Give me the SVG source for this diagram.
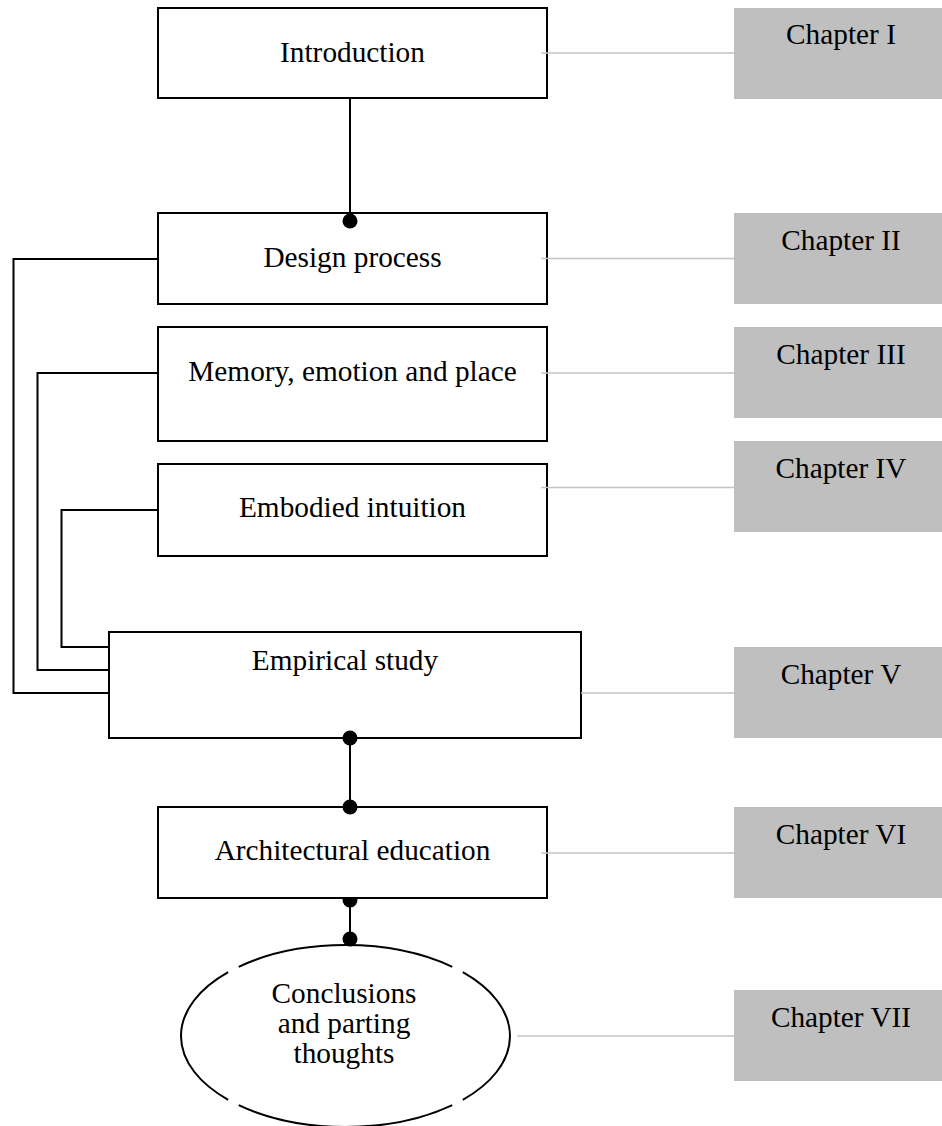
<svg xmlns="http://www.w3.org/2000/svg" width="942" height="1126" viewBox="0 0 942 1126">
  <style>
    .box { fill: #ffffff; stroke: #000000; stroke-width: 2; }
    .chap { fill: #bfbfbf; stroke: none; }
    .lbl { font-family: "Liberation Serif", "Times New Roman", serif; font-size: 29.3px; fill: #000000; text-anchor: middle; }
    .link { fill: none; stroke: #000000; stroke-width: 2; }
    .tie { fill: none; stroke: #c4c4c4; stroke-width: 1.5; }
    .dot { fill: #000000; }
  </style>
  <rect width="942" height="1126" fill="#ffffff"/>

  <!-- main flow -->
  <g id="introduction">
    <rect class="box" x="158" y="8" width="389" height="90"/>
    <text class="lbl" x="352.5" y="62">Introduction</text>
  </g>
  <g id="design-process">
    <rect class="box" x="158" y="213" width="389" height="91"/>
    <text class="lbl" x="352.5" y="267">Design process</text>
  </g>
  <g id="memory-emotion-place">
    <rect class="box" x="158" y="327" width="389" height="114"/>
    <text class="lbl" x="352.5" y="381">Memory, emotion and place</text>
  </g>
  <g id="embodied-intuition">
    <rect class="box" x="158" y="464" width="389" height="92"/>
    <text class="lbl" x="352.5" y="517">Embodied intuition</text>
  </g>
  <g id="empirical-study">
    <rect class="box" x="109" y="632" width="472" height="106"/>
    <text class="lbl" x="345" y="670">Empirical study</text>
  </g>
  <g id="architectural-education">
    <rect class="box" x="158" y="807" width="389" height="91"/>
    <text class="lbl" x="352.5" y="860">Architectural education</text>
  </g>
  <g id="conclusions">
    <ellipse cx="345.5" cy="1036" rx="164.5" ry="91" fill="#ffffff"/>
    <path class="link" d="M452.3 1105.2 A164.5 91 0 0 1 238.7 1105.2 M228.2 1099.8 A164.5 91 0 0 1 228.2 972.2 M238.7 966.8 A164.5 91 0 0 1 452.3 966.8 M462.8 972.2 A164.5 91 0 0 1 462.8 1099.8"/>
    <text class="lbl" x="344" y="1003">Conclusions</text>
    <text class="lbl" x="344" y="1033">and parting</text>
    <text class="lbl" x="344" y="1063">thoughts</text>
  </g>

  <!-- chapter tags -->
  <g id="chapter-1">
    <rect class="chap" x="734" y="8" width="214" height="91"/>
    <text class="lbl" x="841" y="44">Chapter I</text>
  </g>
  <g id="chapter-2">
    <rect class="chap" x="734" y="213" width="214" height="91"/>
    <text class="lbl" x="841" y="250">Chapter II</text>
  </g>
  <g id="chapter-3">
    <rect class="chap" x="734" y="327" width="214" height="91"/>
    <text class="lbl" x="841" y="364">Chapter III</text>
  </g>
  <g id="chapter-4">
    <rect class="chap" x="734" y="441" width="214" height="91"/>
    <text class="lbl" x="841" y="478">Chapter IV</text>
  </g>
  <g id="chapter-5">
    <rect class="chap" x="734" y="647" width="214" height="91"/>
    <text class="lbl" x="841" y="684">Chapter V</text>
  </g>
  <g id="chapter-6">
    <rect class="chap" x="734" y="807" width="214" height="91"/>
    <text class="lbl" x="841" y="844">Chapter VI</text>
  </g>
  <g id="chapter-7">
    <rect class="chap" x="734" y="990" width="214" height="91"/>
    <text class="lbl" x="841" y="1027">Chapter VII</text>
  </g>

  <!-- connectors -->
  <g id="connectors">
    <!-- vertical spine -->
    <line class="link" x1="350" y1="98" x2="350" y2="221"/>
    <circle class="dot" cx="350" cy="221" r="7.5"/>
    <line class="link" x1="350" y1="738" x2="350" y2="807"/>
    <circle class="dot" cx="350" cy="738" r="7.5"/>
    <circle class="dot" cx="350" cy="807" r="7.5"/>
    <line class="link" x1="350" y1="898" x2="350" y2="939"/>
    <path class="dot" d="M342.57 899 A7.5 7.5 0 1 0 357.43 899 Z"/>
    <circle class="dot" cx="350" cy="939" r="7.5"/>
    <!-- feedback loops into the empirical study -->
    <polyline class="link" points="158,259 13.5,259 13.5,693 109,693"/>
    <polyline class="link" points="158,373 37.5,373 37.5,670 109,670"/>
    <polyline class="link" points="158,510 61.5,510 61.5,647 109,647"/>
    <!-- chapter ties -->
    <line class="tie" x1="541" y1="53" x2="734" y2="53"/>
    <line class="tie" x1="541" y1="258.5" x2="734" y2="258.5"/>
    <line class="tie" x1="541" y1="373" x2="734" y2="373"/>
    <line class="tie" x1="541" y1="487.5" x2="734" y2="487.5"/>
    <line class="tie" x1="581" y1="693" x2="734" y2="693"/>
    <line class="tie" x1="541" y1="853" x2="734" y2="853"/>
    <line class="tie" x1="517" y1="1036" x2="734" y2="1036"/>
  </g>
</svg>
